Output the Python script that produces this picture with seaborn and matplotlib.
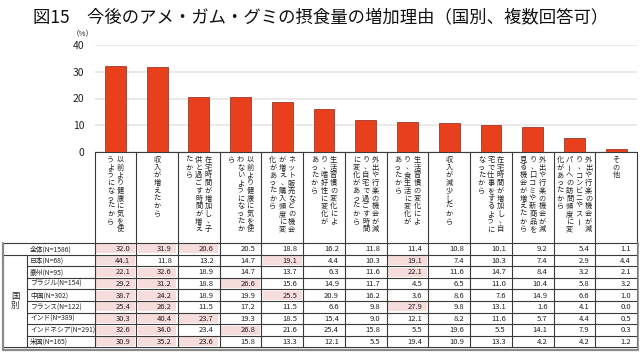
import matplotlib
matplotlib.use("Agg")
import matplotlib.pyplot as plt
import seaborn as sns
import pandas as pd
from matplotlib.patches import Rectangle

# ---------------- data ----------------
title = "図15　今後のアメ・ガム・グミの摂食量の増加理由（国別、複数回答可）"
unit_label = "（%）"
yticks = [0, 10, 20, 30, 40]

reason_lines = [
    ["以前より健康に気を使", "うようになったから"],
    ["収入が増えたから"],
    ["在宅時間が増加し、子", "供と過ごす時間が増え", "たから"],
    ["以前より健康に気を使", "わないようになったか", "ら"],
    ["ネット販売などの機会", "が増え、購入頻度に変", "化があったから"],
    ["生活習慣の変化によ", "り、嗜好性に変化が", "あったから"],
    ["外出や行楽の機会が減", "り、自宅で過ごす時間", "に変化があったから"],
    ["生活習慣の変化によ", "り、食生活に変化が", "あったから"],
    ["収入が減少したから"],
    ["在宅時間が増加し、自", "宅で仕事をするように", "なったから"],
    ["外出や行楽の機会が減", "り、口コミや新商品を", "見る機会が増えたから"],
    ["外出や行楽の機会が減", "り、コンビニやスー", "パーへの訪問頻度に変", "化があったから"],
    ["その他"],
]

overall_label = "全体(N=1586)"
overall = [32.0, 31.9, 20.6, 20.5, 18.8, 16.2, 11.8, 11.4, 10.8, 10.1, 9.2, 5.4, 1.1]

group_label = "国別"
country_labels = ["日本(N=68)", "豪州(N=95)", "ブラジル(N=154)", "中国(N=302)",
                  "フランス(N=122)", "インド(N=389)", "インドネシア(N=291)", "米国(N=165)"]
japan     = [44.1, 11.8, 13.2, 14.7, 19.1, 4.4, 10.3, 19.1, 7.4, 10.3, 7.4, 2.9, 4.4]
australia = [22.1, 32.6, 18.9, 14.7, 13.7, 6.3, 11.6, 22.1, 11.6, 14.7, 8.4, 3.2, 2.1]
brazil    = [29.2, 31.2, 18.8, 26.6, 15.6, 14.9, 11.7, 4.5, 6.5, 11.0, 10.4, 5.8, 3.2]
china     = [38.7, 24.2, 18.9, 19.9, 25.5, 20.9, 16.2, 3.6, 8.6, 7.6, 14.9, 6.6, 1.0]
france    = [25.4, 26.2, 11.5, 17.2, 11.5, 6.6, 9.8, 27.9, 9.8, 13.1, 1.6, 4.1, 0.0]
india     = [30.3, 40.4, 23.7, 19.3, 18.5, 15.4, 9.0, 12.1, 8.2, 11.6, 5.7, 4.4, 0.5]
indonesia = [32.6, 34.0, 23.4, 26.8, 21.6, 25.4, 15.8, 5.5, 19.6, 5.5, 14.1, 7.9, 0.3]
usa       = [30.9, 35.2, 23.6, 15.8, 13.3, 12.1, 5.5, 19.4, 10.9, 13.3, 4.2, 4.2, 1.2]
country_values = [japan, australia, brazil, china, france, india, indonesia, usa]

# ---------------- style ----------------
sns.set_theme(style="white")
plt.rcParams["font.family"] = ["Noto Sans CJK JP", "DejaVu Sans"]

W, H = 640, 353
fig = plt.figure(figsize=(W / 100, H / 100), dpi=100)
fig.patch.set_facecolor("white")

# layout (pixels)
x0, x1 = 94.5, 637.0
n = len(overall)
cw = (x1 - x0) / n
y_zero, y_top = 152.0, 45.0
box_bottom = 243.0
row_h = 11.6
n_rows = 1 + len(country_values)
tbl_bottom = box_bottom + row_h * n_rows
left_frame = 3.0
group_col = 27.0

BAR = "#E8401C"
LINE = "#3a3a3a"
PINK = "#F7DCDC"
TXT = "#222222"

# overlay axes in pixel coordinates
ov = fig.add_axes([0, 0, 1, 1], zorder=0)
ov.set_xlim(0, W)
ov.set_ylim(H, 0)
ov.axis("off")

# bar axes
ax = fig.add_axes([x0 / W, (H - y_zero) / H, (x1 - x0) / W, (y_zero - y_top) / H], zorder=1)
ax.set_facecolor("none")
df = pd.DataFrame({"reason": ["".join(l) for l in reason_lines], "value": overall})
sns.barplot(data=df, x="reason", y="value", color=BAR, width=0.5, saturation=1,
            edgecolor="#9a3b2c", linewidth=0.6, ax=ax)
ax.set_xlim(-0.5, n - 0.5)
ax.set_ylim(0, 40)
ax.set_yticks(yticks)
ax.set_yticklabels([str(t) for t in yticks])
ax.set_xticks([])
ax.set_xlabel("")
ax.set_ylabel("")
ax.yaxis.grid(True, color="#E6E6E6", linewidth=1.2)
ax.set_axisbelow(True)
for s in ax.spines.values():
    s.set_visible(False)
ax.tick_params(axis="y", length=0, pad=7.5, labelsize=7.5, colors=TXT)

# title & unit
ov.text(33, 17, title, fontsize=12.5, ha="left", va="center", color="#111111")
ov.text(83, 34, unit_label, fontsize=5.5, ha="center", va="center", color=TXT)

# label boxes
lw = 0.8
ov.plot([x0, x1], [y_zero, y_zero], color=LINE, lw=lw)
for k in range(n + 1):
    xx = x0 + k * cw
    ov.plot([xx, xx], [y_zero, tbl_bottom], color=LINE, lw=lw)

char_step = 7.7
col_step = 9.5
vfs = 5.2
for k, lines in enumerate(reason_lines):
    cx = x0 + (k + 0.5) * cw
    m = len(lines)
    for i, line in enumerate(lines):
        lx = cx + (m - 1) / 2 * col_step - i * col_step
        for j, ch in enumerate(line):
            ly = 160 + j * char_step
            if ch == "ー":
                ov.text(lx, ly, ch, fontsize=vfs, ha="center", va="center", rotation=90, color=TXT)
            elif ch == "、":
                ov.text(lx + 1.8, ly, ch, fontsize=vfs, ha="center", va="center", color=TXT)
            else:
                ov.text(lx, ly, ch, fontsize=vfs, ha="center", va="center", color=TXT)

# table
rows = [(overall_label, overall)] + list(zip(country_labels, country_values))
for r, (lab, vals) in enumerate(rows):
    top = box_bottom + r * row_h
    cy = top + row_h / 2
    thr = sorted(vals, reverse=True)[2]
    for c, v in enumerate(vals):
        cl = x0 + c * cw
        if v >= thr:
            ov.add_patch(Rectangle((cl + 1.5, top + 1.3), cw - 3, row_h - 2.6,
                                   facecolor=PINK, edgecolor="none"))
        ov.text(cl + cw - 6, cy + 0.3, f"{v:.1f}", fontsize=5.5, ha="right", va="center", color=TXT)
    ov.text(30, cy + 0.3, lab, fontsize=4.9, ha="left", va="center", color=TXT)
    ys = top + row_h
    xs = left_frame if r == 0 or r == n_rows - 1 else group_col
    ov.plot([xs, x1], [ys, ys], color=LINE, lw=lw)

ov.plot([left_frame, x1], [box_bottom, box_bottom], color=LINE, lw=lw)
ov.plot([group_col, group_col], [box_bottom + row_h, tbl_bottom], color=LINE, lw=lw)
gy = (box_bottom + row_h + tbl_bottom) / 2
ov.text(15, gy - 4.5, group_label[0], fontsize=6, ha="center", va="center", color=TXT)
ov.text(15, gy + 4.5, group_label[1], fontsize=6, ha="center", va="center", color=TXT)
# outer frame
ov.plot([left_frame, left_frame], [box_bottom, tbl_bottom + 2.5], color="#8a8a8a", lw=1.6)
ov.plot([left_frame, x1 + 0.5], [tbl_bottom + 2.5, tbl_bottom + 2.5], color="#8a8a8a", lw=1.6)
ov.plot([x1 + 0.5, x1 + 0.5], [box_bottom, tbl_bottom + 2.5], color="#8a8a8a", lw=1.2)

fig.savefig("out.png", dpi=100)
